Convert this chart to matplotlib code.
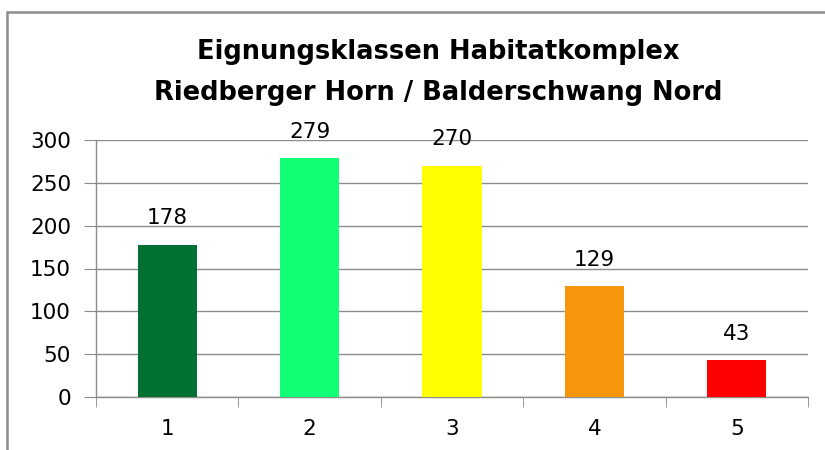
import matplotlib.pyplot as plt
from matplotlib.patches import Rectangle

# Eignungsklassen und Anzahl
klassen = ['1', '2', '3', '4', '5']
anzahl = [178, 279, 270, 129, 43]
farben = ['#037033', '#11FF75', '#FFFF00', '#F7960C', '#FF0000']

plt.rcParams['font.family'] = ['DejaVu Sans']

fig = plt.figure(figsize=(8.25, 4.5), dpi=100)
ax = fig.add_axes([96 / 825, 1 - 397 / 450, 712 / 825, 257 / 450])

# Rahmen um das Diagramm
fig.patches.append(Rectangle((7 / 825, -0.1), 1.0, 1 - 12 / 450 + 0.1, transform=fig.transFigure,
                             fill=False, edgecolor='#8c8c8c', linewidth=1.8))

x = range(len(klassen))
ax.bar(x, anzahl, width=0.415, color=farben, zorder=3)
for xi, v in zip(x, anzahl):
    ax.annotate(str(v), (xi, v), xytext=(0, 19), textcoords='offset points',
                ha='center', va='center', fontsize=15.5, color='black')

ax.set_xlim(-0.5, len(klassen) - 0.5)
ax.set_ylim(0, 300)
ax.set_yticks(range(0, 301, 50))
ax.set_xticks(list(x))
ax.set_xticklabels(klassen)
ax.set_xticks([i + 0.5 for i in range(-1, len(klassen))], minor=True)
ax.tick_params(axis='x', which='major', length=0, pad=16, labelsize=15.5)
ax.tick_params(axis='x', which='minor', length=7, color='#8c8c8c', direction='out')
ax.tick_params(axis='y', length=9, color='#8c8c8c', direction='out', pad=9, labelsize=15.5)

ax.grid(axis='y', color='#8c8c8c', linewidth=1, zorder=0)
for s in ['top', 'right']:
    ax.spines[s].set_visible(False)
for s in ['left', 'bottom']:
    ax.spines[s].set_color('#8c8c8c')
    ax.spines[s].set_linewidth(1)

fig.text(438 / 825, 1 - 52 / 450, 'Eignungsklassen Habitatkomplex',
         ha='center', va='center', fontsize=18.5, fontweight='bold')
fig.text(438 / 825, 1 - 93 / 450, 'Riedberger Horn / Balderschwang Nord',
         ha='center', va='center', fontsize=18.5, fontweight='bold')

fig.savefig('out.png', dpi=100)
